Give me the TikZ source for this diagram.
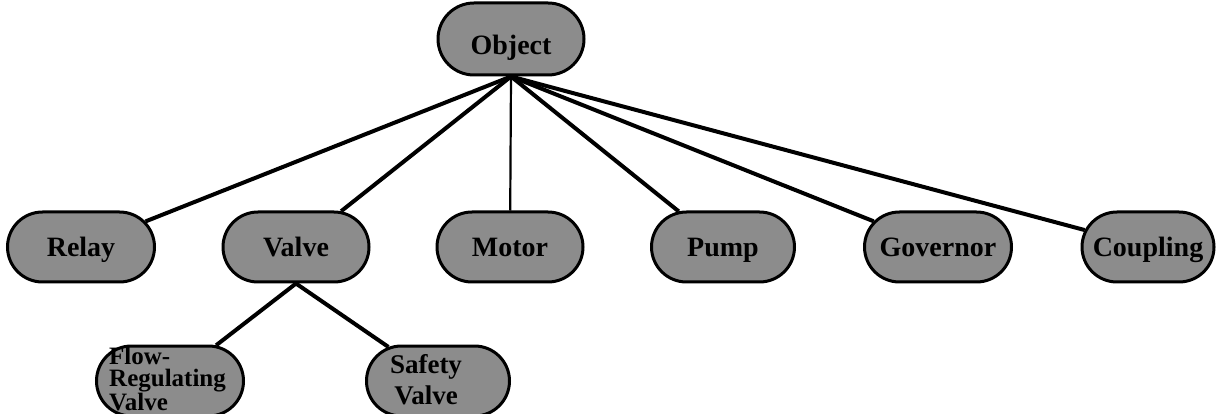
\documentclass[tikz,border=0pt]{standalone}
\usepackage{fontspec}
\setmainfont{Liberation Serif}
\usetikzlibrary{shapes.misc}
\begin{document}
\begin{tikzpicture}[x=1pt,y=-1pt,
  pill/.style={draw, line width=3pt, fill=black!45, rounded rectangle,
    minimum height=70pt, minimum width=147pt, inner sep=0pt,
    text height=19pt, text depth=0pt,
    font=\bfseries\fontsize{28}{28}\selectfont},
  lbl/.style={inner sep=0pt, align=center, font=\bfseries\fontsize{27}{31}\selectfont},
  edge/.style={line width=4pt},
  thinedge/.style={line width=2.2pt}]
\useasboundingbox (0,0) rectangle (1216,414);
\node[pill, minimum width=146pt, minimum height=72pt] (obj) at (511,39) {\raisebox{-6pt}[19pt][0pt]{Object}};
\node[pill] (relay) at (81,247) {Relay};
\node[pill, minimum width=146pt] (valve) at (296,247) {Valve};
\node[pill, minimum width=146pt] (motor) at (510,247) {Motor};
\node[pill, minimum width=143pt] (pump) at (723,247) {Pump};
\node[pill] (gov) at (938,247) {Governor};
\node[pill, minimum width=132pt] (coup) at (1148,247) {Coupling};
\node[pill, text height=0pt] (flow) at (170,381) {};
\node[lbl, align=left, font=\bfseries\fontsize{25}{22}\selectfont, anchor=north west] (flowt) at (109,347) {Flow-\\Regulating\\Valve};
\node[pill, minimum width=143pt, text height=0pt] (safe) at (438,381) {};
\node[lbl] (safet) at (426,380) {Safety\\Valve};
\draw[edge] (obj.south) -- (relay);
\draw[edge] (obj.south) -- (valve);
\draw[thinedge] (obj.south) -- (motor);
\draw[edge] (obj.south) -- (pump);
\draw[edge] (obj.south) -- (gov);
\draw[edge] (obj.south) -- (coup);
\draw[edge] (valve.south) -- (flow);
\draw[edge] (valve.south) -- (safe);
\end{tikzpicture}
\end{document}
